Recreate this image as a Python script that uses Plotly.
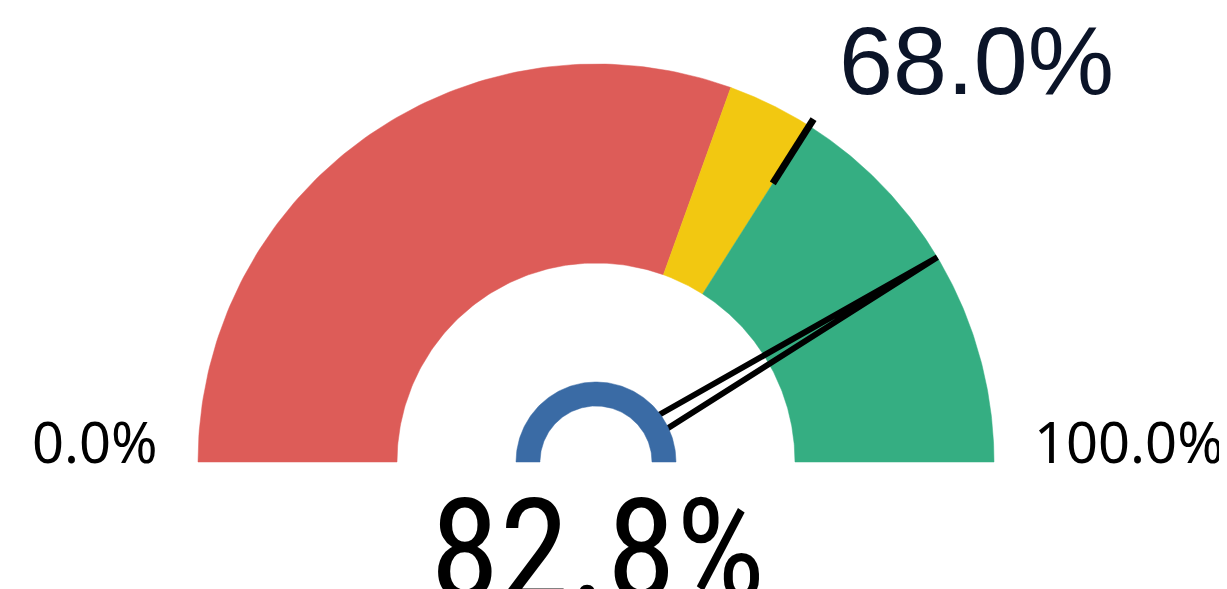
import numpy as np
import plotly.graph_objects as go

# ---- data ----
gauge_min = 0.0
gauge_max = 100.0
band_edges = [0.0, 61.0, 68.0, 100.0]
band_colors = ["#DD5C58", "#F2C811", "#35AE82"]
target_value = 68.0
actual_value = 82.8
min_label = "0.0%"
max_label = "100.0%"
target_label = "68.0%"
value_label = "82.8%"

# ---- layout geometry (pixels) ----
W, H = 1227, 589
PAGE_OFF = 8  # default body margin of the html page
CX, CY = 596.0, 462.0
R_OUT, R_IN = 398.0, 199.0
HUB_OUT, HUB_IN = 80.0, 56.0


def ang(v):
    frac = (v - gauge_min) / (gauge_max - gauge_min)
    return np.pi * (1.0 - frac)


def pt(r, a):
    return CX + r * np.cos(a), CY - r * np.sin(a)


def sector(v0, v1, r0, r1, n=120):
    a = np.linspace(ang(v0), ang(v1), n)
    xo, yo = pt(r1, a)
    xi, yi = pt(r0, a[::-1])
    xs = np.concatenate([xo, xi, xo[:1]])
    ys = np.concatenate([yo, yi, yo[:1]])
    return xs, ys


fig = go.Figure()

for i, col in enumerate(band_colors):
    xs, ys = sector(band_edges[i], band_edges[i + 1], R_IN, R_OUT)
    fig.add_trace(go.Scatter(x=xs, y=ys, mode="lines", fill="toself",
                             fillcolor=col, line=dict(width=0.5, color=col),
                             hoverinfo="skip"))

# target marker
ta = ang(target_value)
x0, y0 = pt(330, ta)
x1, y1 = pt(406, ta)
fig.add_trace(go.Scatter(x=[x0, x1], y=[y0, y1], mode="lines",
                         line=dict(color="black", width=7), hoverinfo="skip"))

# needle
na = ang(actual_value)
tx, ty = pt(R_OUT, na)
bx, by = pt(HUB_OUT - 2, na)
w = 8.0
px, py = -np.sin(na) * w, -np.cos(na) * w
fig.add_trace(go.Scatter(x=[bx + px, tx, bx - px], y=[by + py, ty, by - py],
                         mode="lines", line=dict(color="black", width=6),
                         hoverinfo="skip"))

# hub ring
xs, ys = sector(gauge_min, gauge_max, HUB_IN, HUB_OUT)
fig.add_trace(go.Scatter(x=xs, y=ys, mode="lines", fill="toself",
                         fillcolor="#3A6BA5", line=dict(width=0.5, color="#3A6BA5"),
                         hoverinfo="skip"))

seg_font = "Noto Sans, Open Sans, sans-serif"
narrow_font = "Roboto Condensed, DejaVu Sans Condensed, sans-serif"
annotations = [
    dict(x=95, y=441, text=min_label, font=dict(family=seg_font, size=56, color="#000000")),
    dict(x=1129, y=441, text=max_label, font=dict(family=seg_font, size=56, color="#000000")),
    dict(x=976, y=60, text=target_label,
         font=dict(family="Liberation Sans, Arial, sans-serif", size=97, color="#0B1428")),
    dict(x=597, y=550, text=value_label, font=dict(family=narrow_font, size=141, color="#000000")),
]
for a in annotations:
    a.update(xref="x", yref="y", showarrow=False, xanchor="center", yanchor="middle")

fig.update_layout(
    width=W, height=H, margin=dict(l=0, r=0, t=0, b=0),
    paper_bgcolor="white", plot_bgcolor="white", showlegend=False,
    xaxis=dict(range=[PAGE_OFF, W + PAGE_OFF], visible=False, fixedrange=True),
    yaxis=dict(range=[H + PAGE_OFF, PAGE_OFF], visible=False, fixedrange=True),
    annotations=annotations,
)

fig.write_html("out.html")
